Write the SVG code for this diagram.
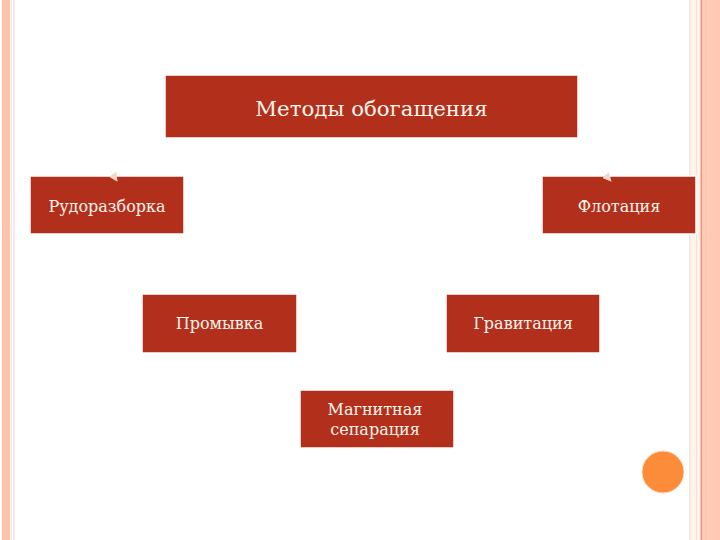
<svg xmlns="http://www.w3.org/2000/svg" width="720" height="540" viewBox="0 0 720 540">
  <style>
    .box { fill: #b12f1b; stroke: #ffffff; stroke-width: 1.5; }
    .lbl { font-family: "DejaVu Serif", "Liberation Serif", serif; fill: #fff4ec; text-anchor: middle; }
    .conn { fill: none; stroke: #fbeee8; stroke-width: 0.8; }
  </style>
  <defs>
    <marker id="arr" viewBox="0 0 10 10" refX="9" refY="5" markerWidth="9" markerHeight="9" markerUnits="userSpaceOnUse" orient="auto">
      <path d="M0,0 L10,5 L0,10 z" fill="#f4d6ca"/>
    </marker>
  </defs>
  <rect x="0" y="0" width="720" height="540" fill="#ffffff"/>
  <g id="border-left">
    <rect x="2" y="0" width="8" height="540" fill="#fdc3ab"/>
    <rect x="11" y="0" width="1" height="540" fill="#fbe3d6"/>
    <rect x="13.5" y="0" width="1" height="540" fill="#ead3c9"/>
  </g>
  <g id="border-right">
    <rect x="689.5" y="0" width="1" height="540" fill="#e6cbbf"/>
    <rect x="690.5" y="0" width="10" height="540" fill="#fff4ec"/>
    <rect x="696" y="0" width="0.8" height="540" fill="#f3ddd2"/>
    <rect x="700.5" y="0" width="2" height="540" fill="#eb9673"/>
    <rect x="702.5" y="0" width="17.5" height="540" fill="#ffc9b5"/>
    <rect x="708" y="0" width="0.8" height="540" fill="#ffd6c6"/>
  </g>
  <g id="node-methods">
    <rect class="box" x="165" y="75" width="413" height="63"/>
    <text class="lbl" x="371.5" y="116" font-size="21.3">Методы обогащения</text>
  </g>
  <g id="node-rudorazborka">
    <rect class="box" x="30" y="176" width="154" height="58"/>
    <text class="lbl" x="107" y="212" font-size="16">Рудоразборка</text>
  </g>
  <g id="node-flotation">
    <rect class="box" x="542" y="176" width="154" height="58"/>
    <text class="lbl" x="619" y="212" font-size="16">Флотация</text>
  </g>
  <g id="node-promyvka">
    <rect class="box" x="142" y="294" width="155" height="59"/>
    <text class="lbl" x="219.5" y="329" font-size="16">Промывка</text>
  </g>
  <g id="node-gravitation">
    <rect class="box" x="446" y="294" width="154" height="59"/>
    <text class="lbl" x="523" y="329" font-size="16">Гравитация</text>
  </g>
  <g id="node-magnetic">
    <rect class="box" x="300" y="390" width="154" height="58"/>
    <text class="lbl" x="375" y="415" font-size="16">Магнитная</text>
    <text class="lbl" x="375" y="435" font-size="16">сепарация</text>
  </g>
  <g id="connectors">
    <path class="conn" d="M110,170 L117,181" marker-end="url(#arr)"/>
    <path class="conn" d="M602,171 L611,181" marker-end="url(#arr)"/>
  </g>
  <circle cx="663" cy="472" r="21" fill="#fd8c3a" stroke="#fddcc4" stroke-width="1"/>
</svg>
